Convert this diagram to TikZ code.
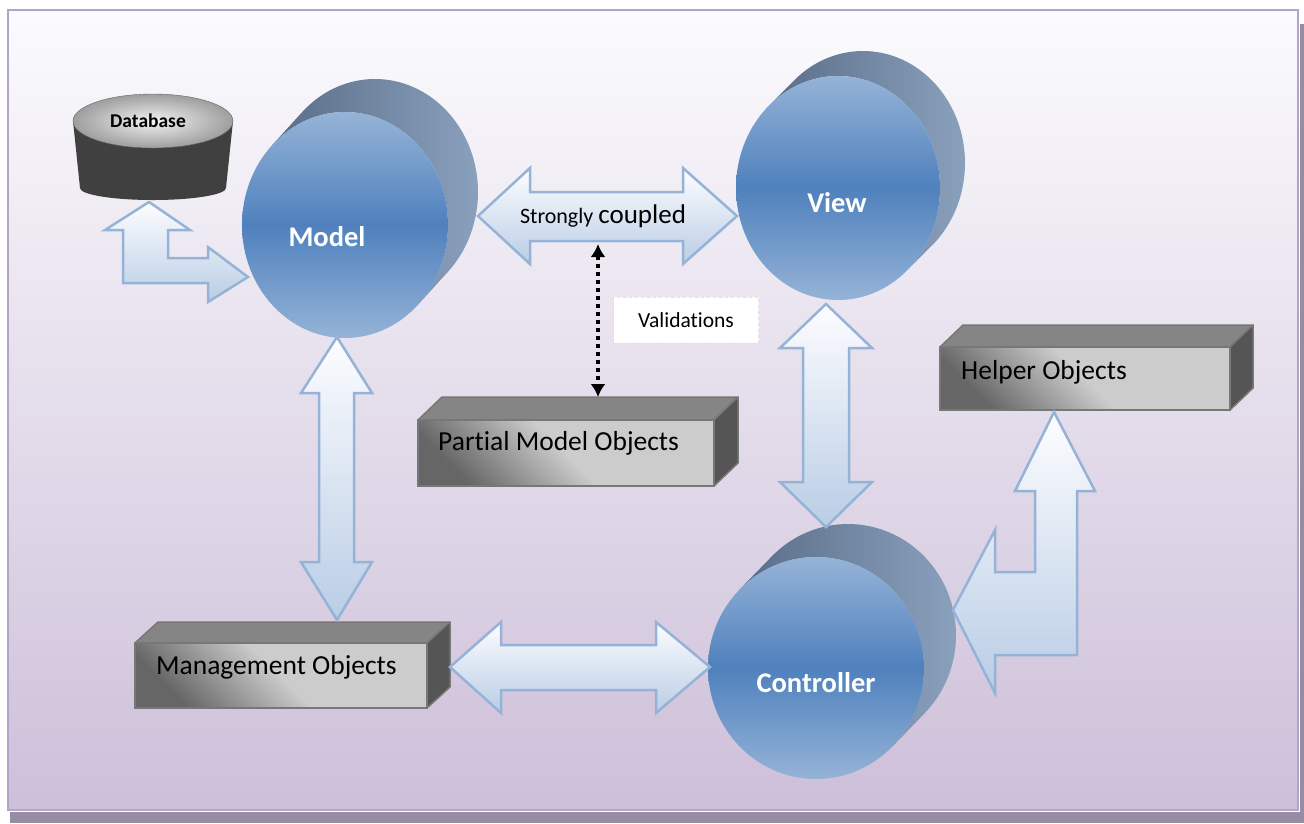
\documentclass[tikz,border=0pt]{standalone}
\usepackage{fontspec}
\setmainfont{Carlito}[Ligatures=NoCommon]
\usetikzlibrary{arrows.meta}

\definecolor{bgtop}{HTML}{FBFBFD}
\definecolor{bgbot}{HTML}{CDBFD9}
\definecolor{framecol}{HTML}{B4A3C8}
\definecolor{shadowcol}{HTML}{968DA3}
\definecolor{arrowtop}{HTML}{FDFDFF}
\definecolor{arrowbot}{HTML}{B9CDE5}
\definecolor{arrowedge}{HTML}{95B3D7}
\definecolor{diskedge}{HTML}{95B3D7}
\definecolor{diskmid}{HTML}{4F81BD}
\definecolor{sidedark}{HTML}{5A6D88}
\definecolor{sidelight}{HTML}{8CA3BF}
\definecolor{boxdark}{HTML}{666666}
\definecolor{boxlight}{HTML}{CCCCCC}
\definecolor{boxtopcol}{HTML}{858585}
\definecolor{boxsidecol}{HTML}{555555}
\definecolor{boxedge}{HTML}{777777}

\tikzset{
  mvcarrow/.style={draw=arrowedge, line width=2.5pt, line join=miter, top color=arrowtop, bottom color=arrowbot},
  diskside/.style={left color=sidedark, right color=sidelight},
  diskfront/.style={top color=diskedge, bottom color=diskedge, middle color=diskmid},
  disklabel/.style={text=white, inner sep=0pt, font=\fontsize{28.5}{34}\selectfont\bfseries},
  boxfront/.style={draw=boxedge, line width=1.5pt, top color=boxdark, bottom color=boxlight, middle color=boxlight, shading angle=135},
  boxtop/.style={draw=boxedge, line width=1.5pt, line join=round, fill=boxtopcol},
  boxside/.style={draw=boxedge, line width=1.5pt, line join=round, fill=boxsidecol},
  boxlabel/.style={anchor=west, inner sep=0pt, font=\fontsize{27.5}{33}\selectfont},
  validbox/.style={fill=white, draw=black!12, dashed, minimum width=145pt, minimum height=46pt, font=\fontsize{21.5}{26}\selectfont},
  validarrow/.style={line width=3.5pt, dash pattern=on 4pt off 4pt, {Latex[length=13pt,width=15pt]}-{Latex[length=13pt,width=15pt]}},
}

\begin{document}
\begin{tikzpicture}[x=1pt, y=-1pt]
  \useasboundingbox (0,0) rectangle (1304,823);

  % frame and its shadow
  \fill[shadowcol] (10,812) rectangle (1304,823);
  \fill[shadowcol] (1300,24) rectangle (1304,812);
  \fill[top color=bgtop, bottom color=bgbot] (8,10) rectangle (1298,810);
  \draw[framecol, line width=2pt] (8,10) rectangle (1298,810);

  % database
  \fill[black!75] (73,121) -- (80,188) arc[start angle=180, end angle=0, x radius=73, y radius=12] -- (233,121) -- cycle;
  \draw[black!60, inner color=black!5, outer color=black!38] (153,121) ellipse [x radius=80, y radius=27];
  \node[inner sep=0pt, font=\fontsize{19.5}{23}\selectfont\bfseries] (db) at (148,121) {Database};

  % model
  \path[diskside] (345,225) ++(45:103 and 113) -- ++(30,-33) arc[start angle=45, end angle=-135, x radius=103, y radius=113] -- ++(-30,33) arc[start angle=-135, end angle=45, x radius=103, y radius=113] -- cycle;
  \path[diskfront] (345,225) ellipse [x radius=103, y radius=113];
  \node[disklabel] (model) at (327,237) {Model};

  % view
  \path[diskside] (838,188) ++(45:102 and 112) -- ++(25,-25) arc[start angle=45, end angle=-135, x radius=102, y radius=112] -- ++(-25,25) arc[start angle=-135, end angle=45, x radius=102, y radius=112] -- cycle;
  \path[diskfront] (838,188) ellipse [x radius=102, y radius=112];
  \node[disklabel] (view) at (837,203) {View};

  % controller
  \path[diskside] (816,668) ++(45:108 and 111) -- ++(32,-33) arc[start angle=45, end angle=-135, x radius=108, y radius=111] -- ++(-32,33) arc[start angle=-135, end angle=45, x radius=108, y radius=111] -- cycle;
  \path[diskfront] (816,668) ellipse [x radius=108, y radius=111];
  \node[disklabel] (controller) at (816,683) {Controller};

  % object boxes
  \draw[boxtop] (418,420) -- (442,397) -- (738,397) -- (714,420) -- cycle;
  \draw[boxside] (714,420) -- (738,397) -- (738,463) -- (714,486) -- cycle;
  \draw[boxfront] (418,420) rectangle (714,486);
  \node[boxlabel] (partial) at (438,443) {Partial Model Objects};

  \draw[boxtop] (940,347) -- (963,325) -- (1253,325) -- (1230,347) -- cycle;
  \draw[boxside] (1230,347) -- (1253,325) -- (1253,388) -- (1230,410) -- cycle;
  \draw[boxfront] (940,347) rectangle (1230,410);
  \node[boxlabel] (helper) at (961,372) {Helper Objects};

  \draw[boxtop] (135,643) -- (158,622) -- (450,622) -- (427,643) -- cycle;
  \draw[boxside] (427,643) -- (450,622) -- (450,687) -- (427,708) -- cycle;
  \draw[boxfront] (135,643) rectangle (427,708);
  \node[boxlabel] (mgmt) at (156,667) {Management Objects};

  % block arrows
  \draw[mvcarrow] (149,202) -- (190,230) -- (168,230) -- (168,258) -- (208,258) -- (208,247) -- (248,277) -- (208,302) -- (208,283) -- (123,283) -- (123,230) -- (105,230) -- cycle;
  \draw[mvcarrow] (478,216) -- (530,168) -- (530,192) -- (683,192) -- (683,168) -- (737,216) -- (683,264) -- (683,241) -- (530,241) -- (530,264) -- cycle;
  \draw[mvcarrow] (337,337) -- (372,393) -- (354,393) -- (354,562) -- (372,562) -- (337,620) -- (301,562) -- (319,562) -- (319,393) -- (301,393) -- cycle;
  \draw[mvcarrow] (826,304) -- (872,348) -- (849,348) -- (849,482) -- (872,482) -- (826,527) -- (780,482) -- (803,482) -- (803,348) -- (780,348) -- cycle;
  \draw[mvcarrow] (450,667) -- (501,622) -- (501,645) -- (656,645) -- (656,622) -- (710,667) -- (656,713) -- (656,690) -- (501,690) -- (501,713) -- cycle;
  \draw[mvcarrow] (1054,412) -- (1095,491) -- (1077,491) -- (1077,655) -- (995,655) -- (995,693) -- (953,610) -- (995,530) -- (995,572) -- (1035,572) -- (1035,491) -- (1015,491) -- cycle;
  \node[inner sep=0pt, font=\fontsize{22}{26}\selectfont] (coupled) at (603,216) {Strongly {\fontsize{27}{32}\selectfont coupled}};

  % validations
  \coordinate (cpl-s) at (598,244);
  \coordinate (pmo-n) at (598,397);
  \draw[validarrow] (cpl-s) -- (pmo-n);
  \node[validbox] (valid) at (686,320) {Validations};
\end{tikzpicture}
\end{document}
